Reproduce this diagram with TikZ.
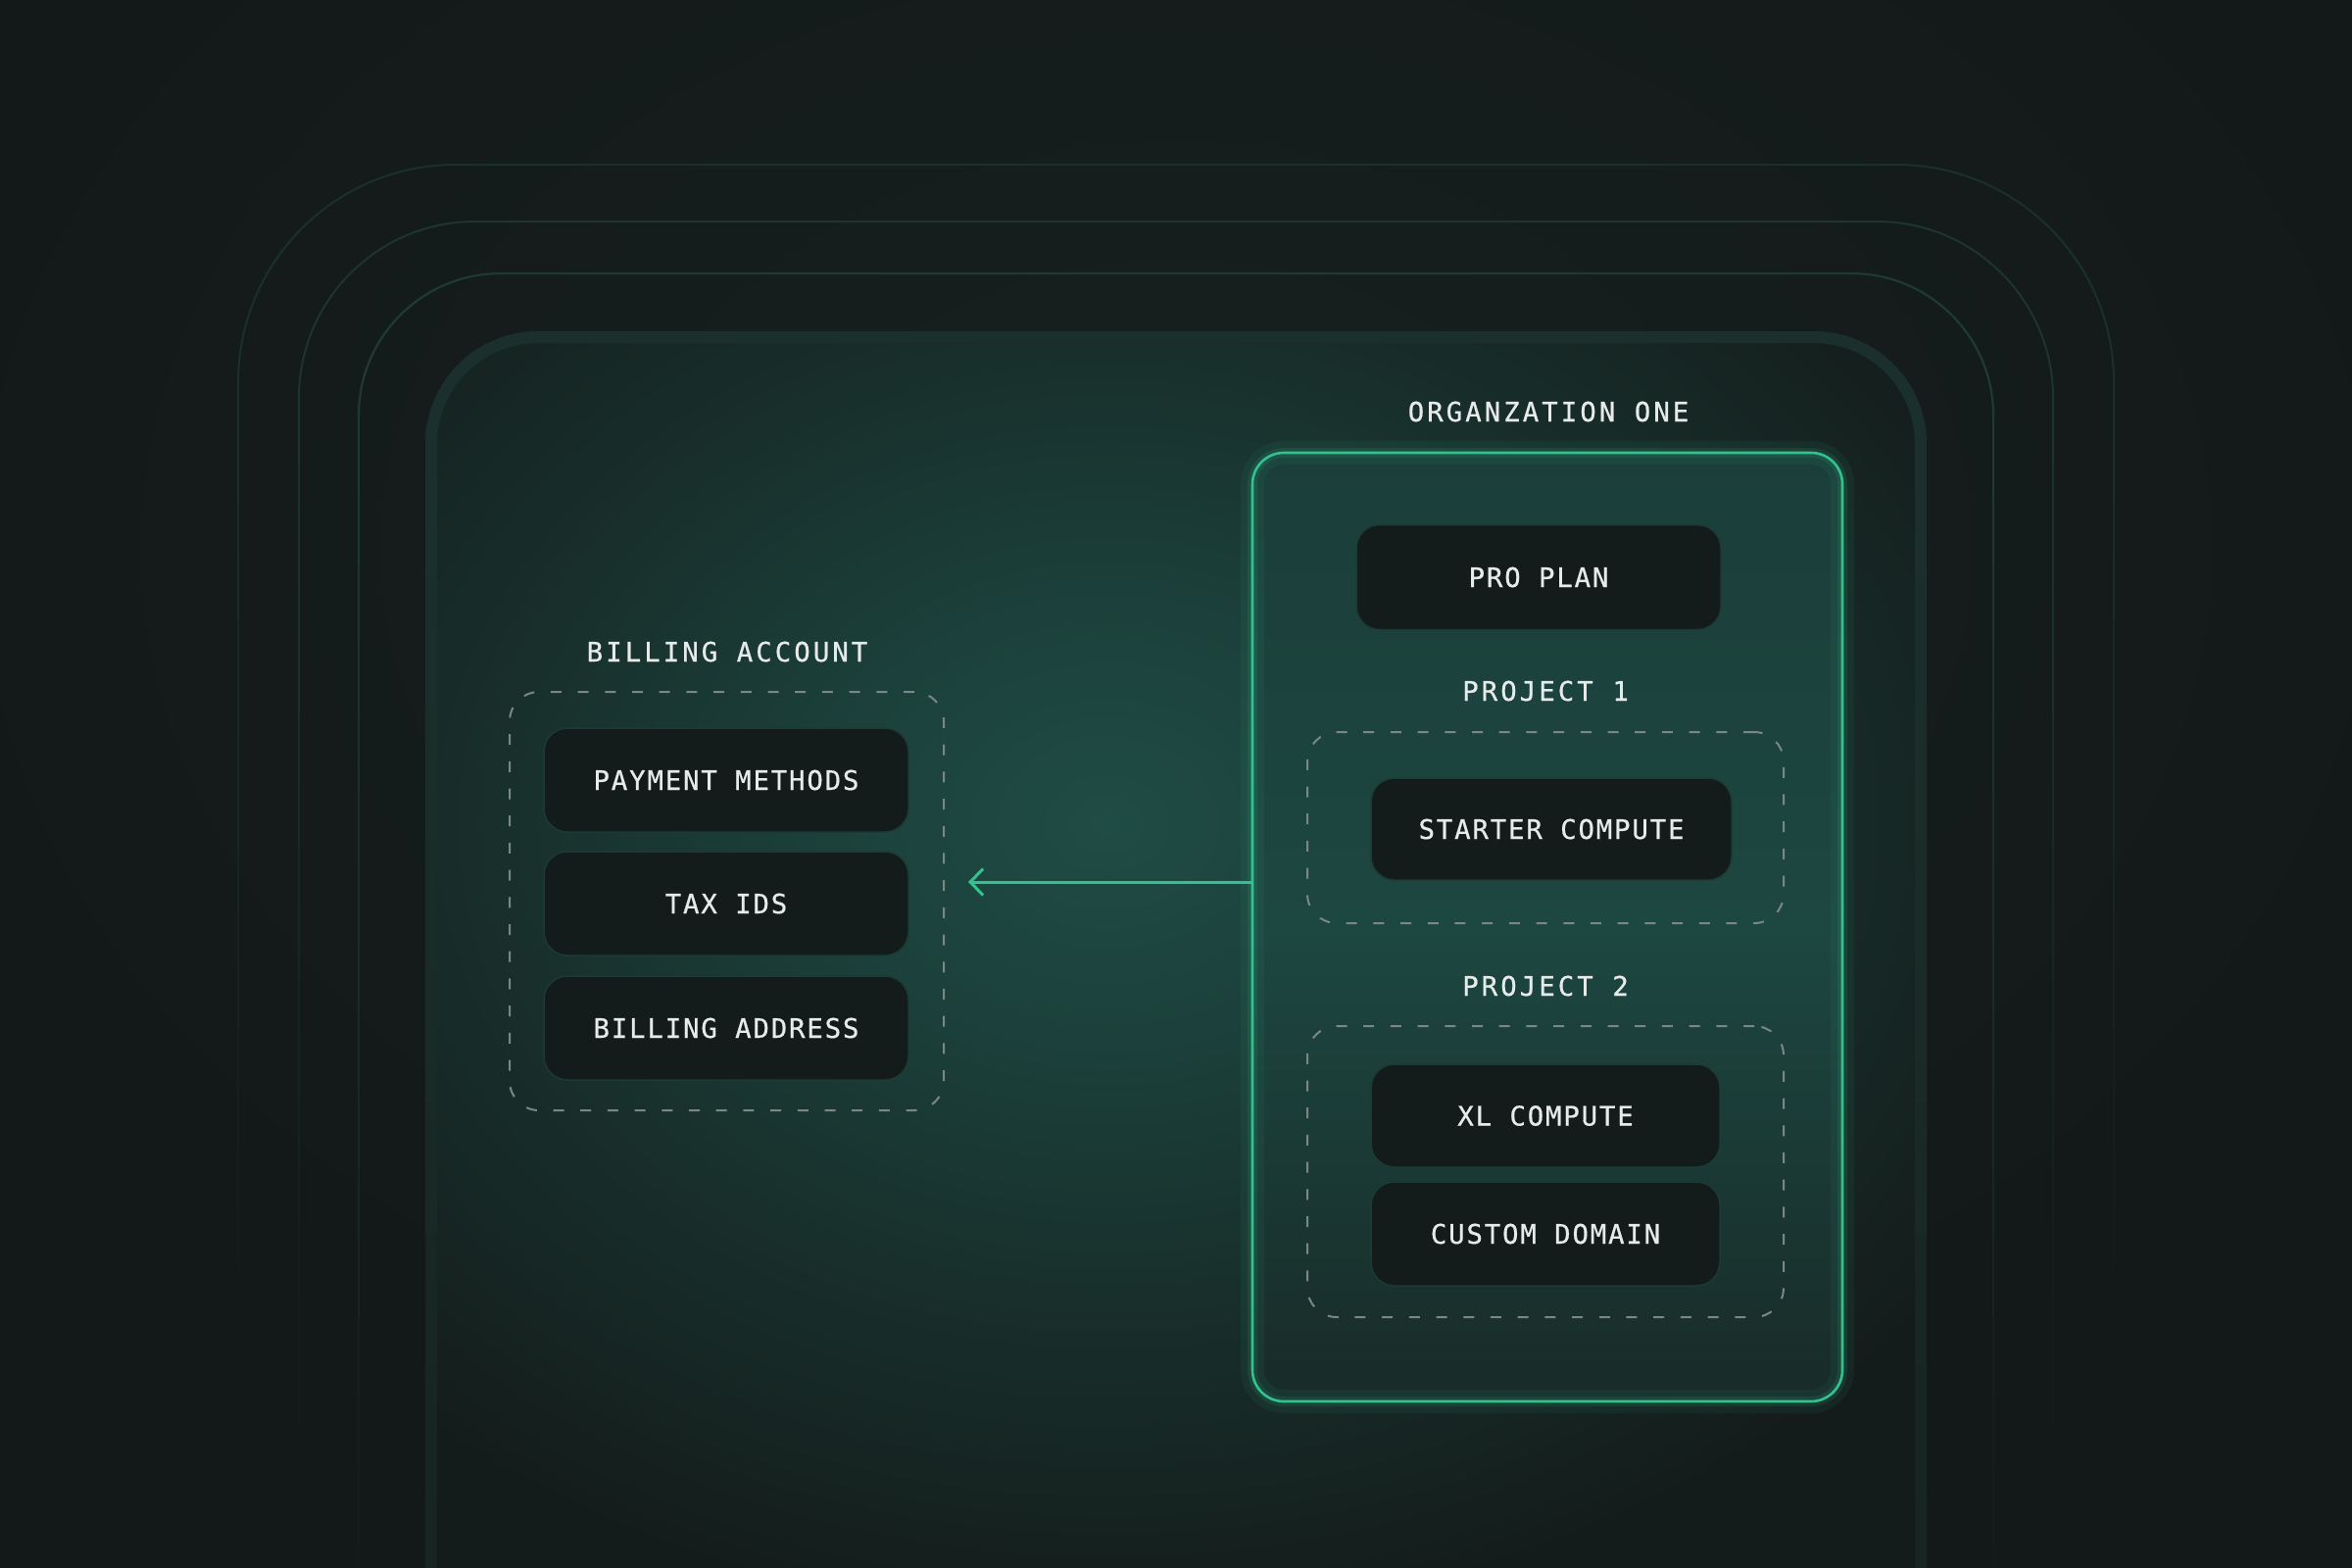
\documentclass[tikz,border=0pt]{standalone}
\usepackage{fontspec}
\newfontfamily\boxfont[LetterSpace=6.6,FakeBold=0.6]{DejaVu Sans Mono}
\newfontfamily\labfont[LetterSpace=11,FakeBold=0.6]{DejaVu Sans Mono}
\usetikzlibrary{arrows.meta}
\definecolor{bg}{HTML}{131918}
\definecolor{bgglow}{HTML}{172120}
\definecolor{framebg}{HTML}{141C1B}
\definecolor{glowA}{HTML}{1F4C45}
\definecolor{glowB}{HTML}{1C423C}
\definecolor{glowC}{HTML}{182F2B}
\definecolor{bandc}{HTML}{1B302C}
\definecolor{lineA}{HTML}{1A302C}
\definecolor{lineB}{HTML}{1C3530}
\definecolor{lineC}{HTML}{1E3A34}
\definecolor{accent}{HTML}{33C28E}
\definecolor{orgtop}{HTML}{1B3E39}
\definecolor{orgmid}{HTML}{1D4741}
\definecolor{orgbot}{HTML}{182B28}
\definecolor{itemfill}{HTML}{131C1B}
\definecolor{itemborder}{HTML}{1D3A35}
\definecolor{txt}{HTML}{E6EAE9}
\definecolor{dashc}{HTML}{7B8784}
\pgfdeclareradialshading{glowsh}{\pgfpoint{0bp}{0bp}}{color(0bp)=(glowA); color(6bp)=(glowB); color(15bp)=(glowC); color(25bp)=(framebg); color(50bp)=(framebg)}
\pgfdeclareradialshading{bgsh}{\pgfpoint{0bp}{0bp}}{color(0bp)=(bgglow); color(25bp)=(bg); color(50bp)=(bg)}
\newcommand{\fadeln}[7]{%
  \draw[#5, line width=#7, rounded corners=#4] (#1,#3+#4) -- (#1,#3) -- (#2,#3) -- (#2,#3+#4);
  \foreach \i in {0,...,15}{%
    \pgfmathsetmacro\ya{#3+#4+(#6-#3-#4)/16*\i}%
    \pgfmathsetmacro\yb{#3+#4+(#6-#3-#4)/16*(\i+1.1)}%
    \pgfmathtruncatemacro\pct{100-\i*100/16}%
    \draw[color=#5!\pct!bg, line width=#7] (#1,\ya) -- (#1,\yb) (#2,\ya) -- (#2,\yb);
  }%
}
\begin{document}
\begin{tikzpicture}[x=1pt,y=-1pt,
  itembox/.style={draw=itemborder, line width=1.5pt, fill=itemfill, rounded corners=24pt,
    inner sep=0pt, text=txt, font=\boxfont\fontsize{27.4}{32}\selectfont,
    text height=20pt, text depth=0pt},
  grouplabel/.style={text=txt, font=\labfont\fontsize{27.4}{32}\selectfont, inner sep=0pt,
    text height=20pt, text depth=0pt},
  groupbox/.style={draw=dashc, line width=2pt, dash pattern=on 11pt off 16.7pt,
    rounded corners=30pt, inner sep=0pt},
  orgbox/.style={top color=orgtop, bottom color=orgbot, middle color=orgmid,
    rounded corners=32pt, inner sep=0pt,
    postaction={draw=accent, line width=24pt, opacity=0.07},
    postaction={draw=accent, line width=10pt, opacity=0.12},
    postaction={draw=accent, line width=2.6pt}},
  conn/.style={draw=accent, line width=3pt, -{Straight Barb[length=13pt, width=27pt]}}
]
\useasboundingbox (0,0) rectangle (2400,1600);
\clip (0,0) rectangle (2400,1600);
\fill[bg] (0,0) rectangle (2400,1600);
\shade[shading=bgsh] (1200,560) ellipse [x radius=1300pt, y radius=950pt];

% outer concentric lines
\fadeln{243}{2157}{168}{222}{lineA}{1350}{2pt}
\fadeln{305}{2095}{226}{180}{lineB}{1450}{2pt}
\fadeln{366}{2034}{279}{145}{lineC}{1650}{2.2pt}

% main frame
\fill[framebg, rounded corners=115pt] (434,1800) -- (434,338) -- (1966,338) -- (1966,1800) -- cycle;
\begin{scope}
  \clip[rounded corners=115pt] (434,1800) -- (434,338) -- (1966,338) -- (1966,1800) -- cycle;
  \shade[shading=glowsh] (1130,840) ellipse [x radius=1050pt, y radius=820pt];
\end{scope}
\fadeln{440}{1960}{344}{109}{bandc}{2600}{12pt}

% organization box
\node[orgbox, minimum width=602pt, minimum height=968pt] (org) at (1579,946) {};
\node[grouplabel] (orglab) at (1580,420) {ORGANZATION ONE};
\node[itembox, minimum width=372pt, minimum height=107pt] (pro) at (1570,589) {PRO PLAN};
\node[grouplabel] (p1lab) at (1577,705) {PROJECT 1};
\node[groupbox, minimum width=486pt, minimum height=195pt] (p1) at (1577,844.5) {};
\node[itembox, minimum width=368pt, minimum height=104pt] (starter) at (1583,846) {STARTER COMPUTE};
\node[grouplabel] (p2lab) at (1577,1006) {PROJECT 2};
\node[groupbox, minimum width=486pt, minimum height=297pt] (p2) at (1577,1195.5) {};
\node[itembox, minimum width=356pt, minimum height=105pt] (xl) at (1577,1138.5) {XL COMPUTE};
\node[itembox, minimum width=356pt, minimum height=106pt] (dom) at (1577,1259) {CUSTOM DOMAIN};

% billing account
\node[grouplabel] (billlab) at (742,665) {BILLING ACCOUNT};
\node[groupbox, minimum width=443pt, minimum height=427pt] (bill) at (741.5,919.5) {};
\node[itembox, minimum width=372pt, minimum height=106pt] (pay) at (741,796) {PAYMENT METHODS};
\node[itembox, minimum width=372pt, minimum height=106pt] (tax) at (741,922) {TAX IDS};
\node[itembox, minimum width=372pt, minimum height=106pt] (addr) at (741,1049) {BILLING ADDRESS};

% connector
\coordinate (ay) at (0,900);
\draw[conn] (org.west |- ay) -- ([xshift=24pt]bill.east |- ay);
\end{tikzpicture}
\end{document}
